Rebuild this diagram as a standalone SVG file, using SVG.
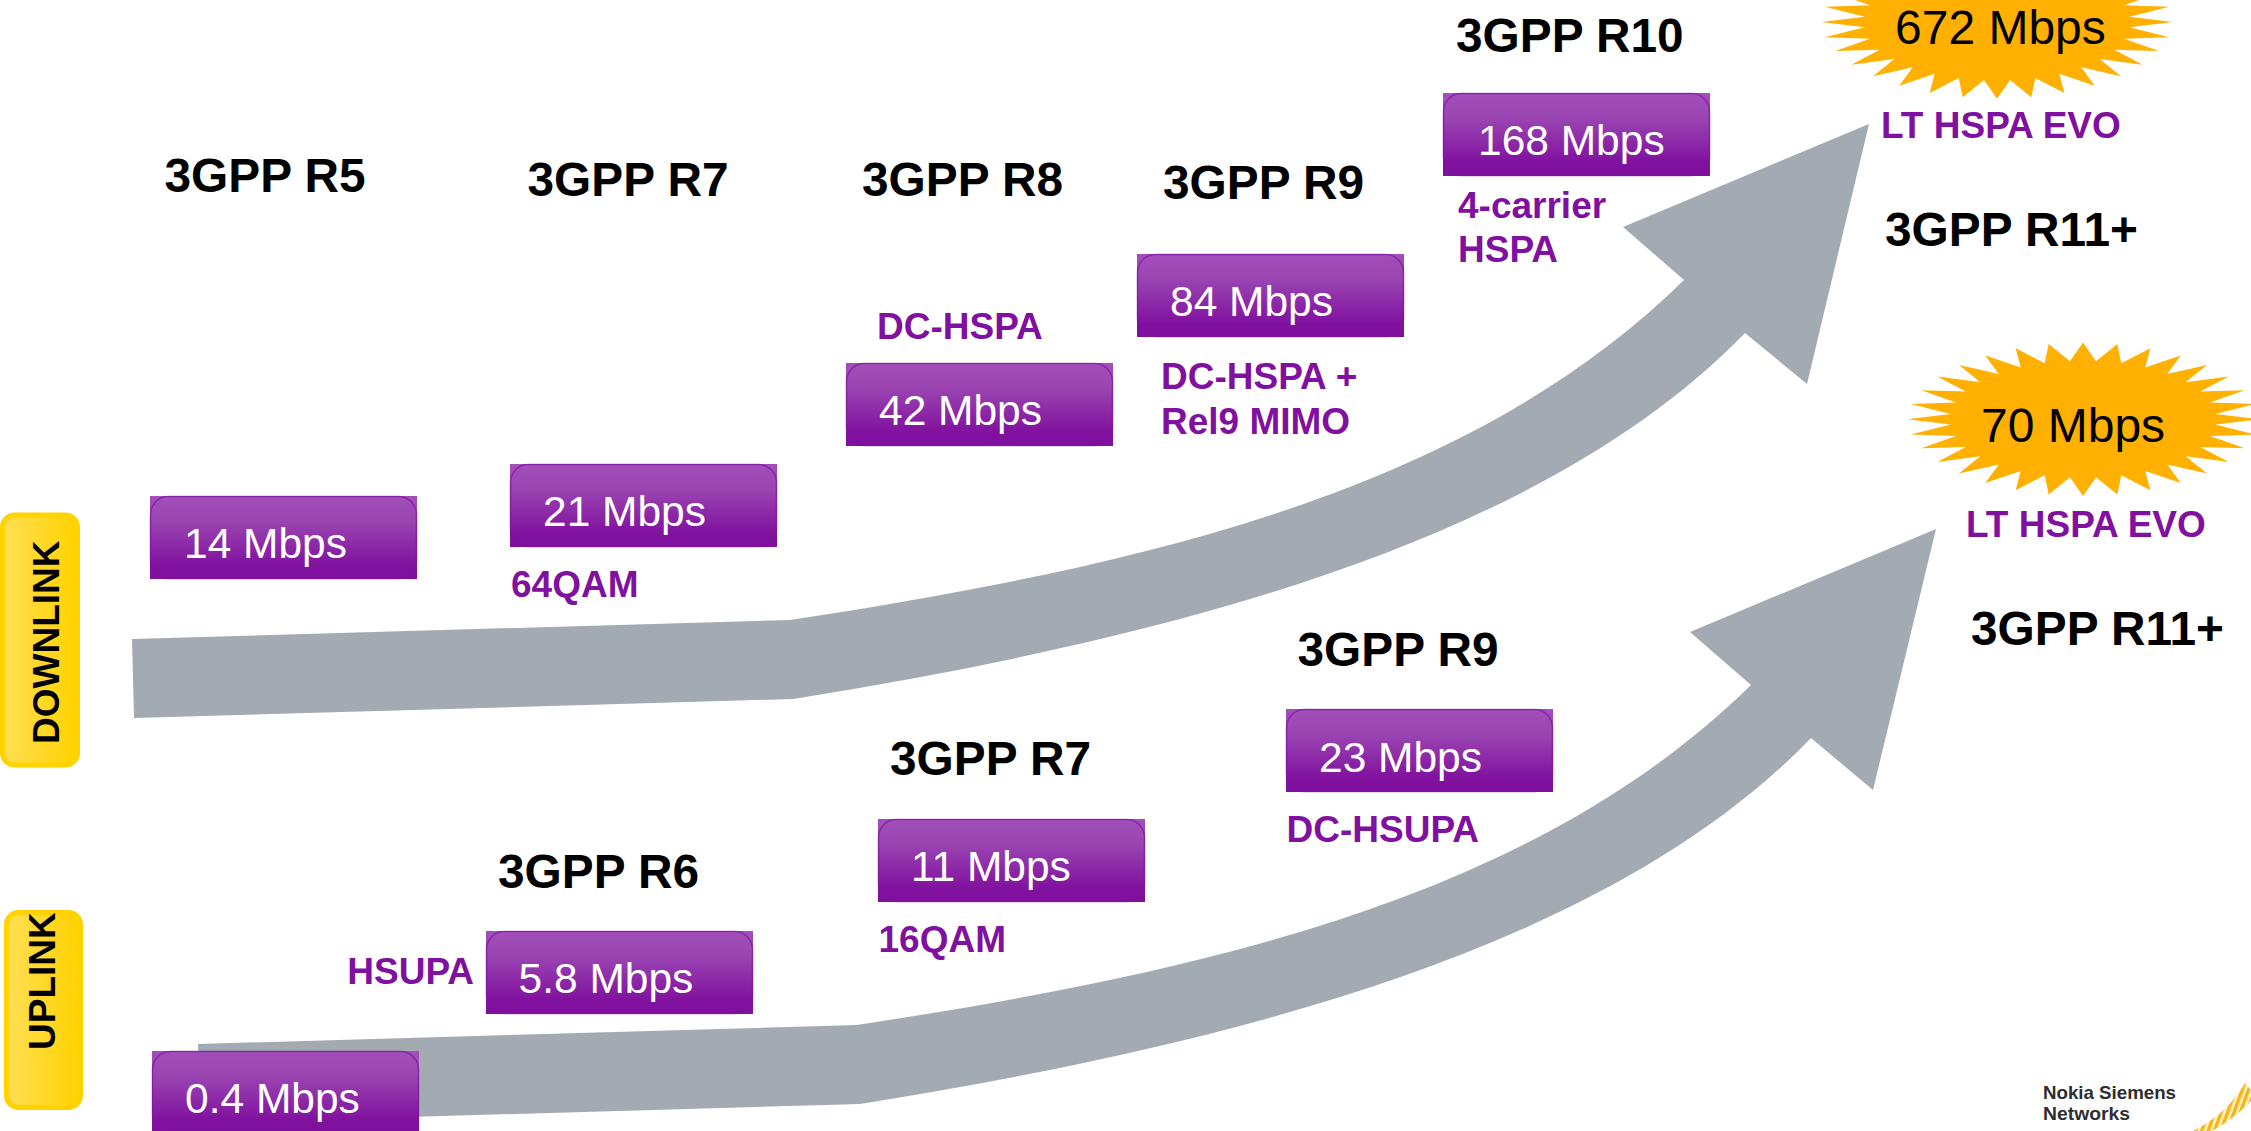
<svg xmlns="http://www.w3.org/2000/svg" xmlns:xlink="http://www.w3.org/1999/xlink" width="2251" height="1131" viewBox="0 0 2251 1131">
<style>
text{font-family:"Liberation Sans",Arial,sans-serif}
.rel{font-size:47.8px;font-weight:700;fill:#000}
.tag{font-size:37px;font-weight:700;fill:#7F10A0}
.rate{font-size:42.5px;fill:#fff}
.peak{font-size:48px;fill:#000}
.side{font-weight:700;fill:#000;font-size:37px}
.arrow{fill:#A3AAB1}
.star{fill:#FFB000}
.box{fill:url(#boxGrad)}
.edge{fill:none;stroke:#8111A2;stroke-width:1.5;stroke-opacity:.7}
.lab{fill:url(#labGrad);stroke:#FFD200;stroke-width:5}
.logo{font-size:18.2px;font-weight:700;fill:#2E2E30}
</style>
<defs>
<linearGradient id="boxGrad" x1="0" y1="0" x2="0" y2="1"><stop offset="0" stop-color="#A24FBA"/><stop offset="0.3" stop-color="#9A45B2"/><stop offset="0.85" stop-color="#80109E"/><stop offset="1" stop-color="#7F0F9D"/></linearGradient>
<linearGradient id="labGrad" x1="0" y1="0" x2="1" y2="0"><stop offset="0" stop-color="#FFDF55"/><stop offset="1" stop-color="#FFD200"/></linearGradient>
<pattern id="stripes" width="6" height="6" patternUnits="userSpaceOnUse" patternTransform="rotate(20)"><rect width="6" height="6" fill="#FFF3C0"/><rect width="3.5" height="6" fill="#F5B520"/></pattern>
<polygon id="burst" points="0,-76.7 13,-58 34.3,-75.3 38.3,-56 67.3,-71 62.3,-51.7 97.7,-63.7 84.3,-45.3 124,-54.3 102.7,-37 145.7,-42.7 117.3,-27.7 161.7,-29 127,-16.7 172.3,-15.3 132.3,-5.3 175.7,0 132.3,5.3 172.3,15.3 127,16.7 161.7,29 117.3,27.7 145.7,42.7 102.7,37 124,54.3 84.3,45.3 97.7,63.7 62.3,51.7 67.3,71 38.3,56 34.3,75.3 13,58 0,76.7 -13,58 -34.3,75.3 -38.3,56 -67.3,71 -62.3,51.7 -97.7,63.7 -84.3,45.3 -124,54.3 -102.7,37 -145.7,42.7 -117.3,27.7 -161.7,29 -127,16.7 -172.3,15.3 -132.3,5.3 -175.7,0 -132.3,-5.3 -172.3,-15.3 -127,-16.7 -161.7,-29 -117.3,-27.7 -145.7,-42.7 -102.7,-37 -124,-54.3 -84.3,-45.3 -97.7,-63.7 -62.3,-51.7 -67.3,-71 -38.3,-56 -34.3,-75.3 -13,-58"/>
<g id="rateBox"><rect class="box" width="267" height="83"/><rect class="edge" x="0.5" y="0.5" width="266" height="82" rx="18"/></g>
</defs>
<rect width="2251" height="1131" fill="#fff"/>
<g id="connectors">
<path id="arrow-down" class="arrow" d="M132,639 L790,620 C1150,565 1470,490 1684,280 L1623,227 L1869,124 L1807,384 L1745,333 C1540,545 1160,640 793,699 L134,718Z"/>
<path id="arrow-up" class="arrow" d="M198,1044 L857,1025 C1217,970 1537,895 1751,685 L1690,632 L1936,529 L1873,790 L1811,738 C1607,950 1227,1045 860,1104 L201,1123Z"/>
</g>
<g id="label-downlink"><rect class="lab" x="2.5" y="515" width="75" height="250" rx="12"/><text class="side" transform="translate(58.5,744) rotate(-90)">DOWNLINK</text></g>
<g id="label-uplink"><rect class="lab" x="6.5" y="912.5" width="74" height="195" rx="12"/><text class="side" transform="translate(55,1050) rotate(-90)">UPLINK</text></g>

<g id="r5"><text class="rel" x="164.5" y="192">3GPP R5</text></g>
<g id="n14"><use href="#rateBox" x="150" y="496"/><text class="rate" x="184" y="558">14 Mbps</text></g>
<g id="r7"><text class="rel" x="527.5" y="196">3GPP R7</text></g>
<g id="n21"><use href="#rateBox" x="510" y="464"/><text class="rate" x="543" y="526">21 Mbps</text><text class="tag" x="511" y="597">64QAM</text></g>
<g id="r8"><text class="rel" x="862" y="196">3GPP R8</text></g>
<g id="n42"><use href="#rateBox" x="846" y="363"/><text class="rate" x="879" y="425">42 Mbps</text><text class="tag" x="877" y="339">DC-HSPA</text></g>
<g id="r9"><text class="rel" x="1163" y="199">3GPP R9</text></g>
<g id="n84"><use href="#rateBox" x="1137" y="254"/><text class="rate" x="1170" y="316">84 Mbps</text><text class="tag" x="1161" y="389">DC-HSPA +</text><text class="tag" x="1161" y="434">Rel9 MIMO</text></g>
<g id="r10"><text class="rel" x="1456" y="52">3GPP R10</text></g>
<g id="n168"><use href="#rateBox" x="1443" y="93"/><text class="rate" x="1478" y="155">168 Mbps</text><text class="tag" x="1458" y="218">4-carrier</text><text class="tag" x="1458" y="262">HSPA</text></g>
<g id="n672"><use href="#burst" x="1997" y="22" class="star"/><text class="peak" x="1895" y="44">672 Mbps</text><text class="tag" x="1881" y="138">LT HSPA EVO</text><text class="rel" x="1885" y="246">3GPP R11+</text></g>
<g id="n70"><use href="#burst" x="2083" y="419.3" class="star"/><text class="peak" x="1981" y="442">70 Mbps</text><text class="tag" x="1966" y="537">LT HSPA EVO</text><text class="rel" x="1971" y="645">3GPP R11+</text></g>

<g id="n04"><use href="#rateBox" x="152" y="1051"/><text class="rate" x="185" y="1113">0.4 Mbps</text></g>
<g id="n58"><use href="#rateBox" x="486" y="931"/><text class="rate" x="518.5" y="993">5.8 Mbps</text><text class="tag" x="347.3" y="984">HSUPA</text><text class="rel" x="498" y="888">3GPP R6</text></g>
<g id="n11"><use href="#rateBox" x="878" y="819"/><text class="rate" x="911" y="881">11 Mbps</text><text class="tag" x="878.5" y="952">16QAM</text><text class="rel" x="890" y="775">3GPP R7</text></g>
<g id="n23"><use href="#rateBox" x="1286" y="709"/><text class="rate" x="1319" y="771.5">23 Mbps</text><text class="tag" x="1286.5" y="842">DC-HSUPA</text><text class="rel" x="1297.5" y="666">3GPP R9</text></g>
<g id="logo"><text class="logo" x="2043" y="1099" textLength="133" lengthAdjust="spacingAndGlyphs">Nokia Siemens</text><text class="logo" x="2043" y="1120" textLength="87" lengthAdjust="spacingAndGlyphs">Networks</text><path d="M2245,1083 C2232,1105 2215,1120 2193,1131 L2212,1131 C2228,1122 2241,1112 2251,1101 L2251,1090Z" fill="url(#stripes)"/></g>
</svg>
